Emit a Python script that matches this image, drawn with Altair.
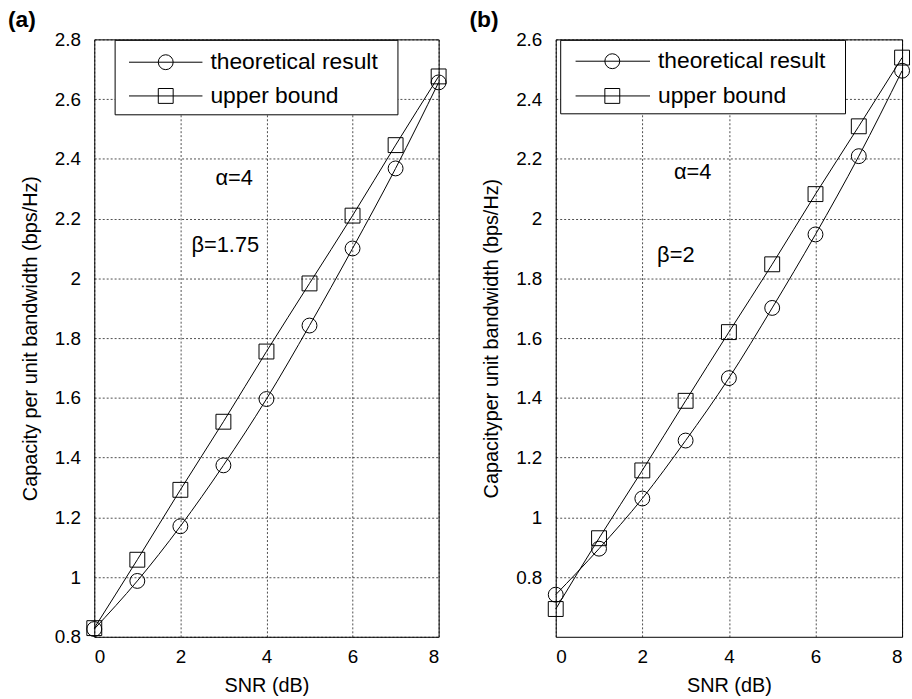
import altair as alt
import pandas as pd

snr = [0, 1, 2, 3, 4, 5, 6, 7, 8]
series_names = ["theoretical result", "upper bound"]
theo_a = [0.826, 0.987, 1.170, 1.374, 1.596, 1.842, 2.100, 2.368, 2.656]
upper_a = [0.829, 1.058, 1.292, 1.520, 1.755, 1.983, 2.210, 2.446, 2.676]
theo_b = [0.741, 0.895, 1.063, 1.257, 1.466, 1.701, 1.947, 2.209, 2.495]
upper_b = [0.693, 0.930, 1.157, 1.390, 1.620, 1.847, 2.082, 2.309, 2.539]
x_ticks = [0, 2, 4, 6, 8]
y_ticks_a = [0.8, 1.0, 1.2, 1.4, 1.6, 1.8, 2.0, 2.2, 2.4, 2.6, 2.8]
y_ticks_b = [0.8, 1.0, 1.2, 1.4, 1.6, 1.8, 2.0, 2.2, 2.4, 2.6]
y_title_a = "Capacity per unit bandwidth (bps/Hz)"
y_title_b = "Capacityper unit bandwidth (bps/Hz)"
x_title = "SNR (dB)"
tags = ["(a)", "(b)"]
alpha_text = "α=4"
beta_texts = ["β=1.75", "β=2"]

FONT = "Liberation Sans"
shapes = ["circle", "square"]


def one(text):
    return pd.DataFrame({"label": [text]})


def panel(theo, upper, ydom, yticks, ytitle, tag, beta_text, width,
          alpha_xy, beta_xy, leg_box, leg_line, leg_mark_x, leg_text_x, leg_rows):
    df = pd.DataFrame({
        "snr": snr + snr,
        "cap": theo + upper,
        "series": [series_names[0]] * len(snr) + [series_names[1]] * len(snr),
    })
    x = alt.X("snr:Q", scale=alt.Scale(domain=[0, 8], nice=False),
              axis=alt.Axis(values=x_ticks, title=x_title, format="~g",
                            labelPadding=11, titlePadding=9))
    y = alt.Y("cap:Q", scale=alt.Scale(domain=ydom, nice=False, zero=False),
              axis=alt.Axis(values=yticks, title=ytitle, format="~g",
                            labelPadding=14, titlePadding=14))
    base = alt.Chart(df)
    lines = base.mark_line(interpolate="monotone", color="black", strokeWidth=1).encode(
        x=x, y=y, detail="series:N")
    pts = base.mark_point(size=225, filled=False, color="black", strokeWidth=1, opacity=1).encode(
        x=x, y=y,
        shape=alt.Shape("series:N", scale=alt.Scale(domain=series_names, range=shapes), legend=None))

    layers = [lines, pts]
    box = alt.Chart(one("box")).mark_rect(fill="white", stroke="black", strokeWidth=1).encode(
        x=alt.value(leg_box[0]), x2=alt.value(leg_box[1]),
        y=alt.value(leg_box[2]), y2=alt.value(leg_box[3]))
    layers.append(box)
    for i, name in enumerate(series_names):
        ry = leg_rows[i]
        layers.append(alt.Chart(one(name)).mark_rule(color="black", strokeWidth=1).encode(
            x=alt.value(leg_line[0]), x2=alt.value(leg_line[1]), y=alt.value(ry)))
        layers.append(alt.Chart(one(name)).mark_point(
            size=225, filled=False, color="black", strokeWidth=1, opacity=1, shape=shapes[i]).encode(
            x=alt.value(leg_mark_x), y=alt.value(ry)))
        layers.append(alt.Chart(one(name)).mark_text(
            align="left", baseline="middle", font=FONT, fontSize=23, color="black").encode(
            x=alt.value(leg_text_x), y=alt.value(ry), text="label:N"))
    layers.append(alt.Chart(one(alpha_text)).mark_text(
        align="center", baseline="middle", font=FONT, fontSize=22, color="black").encode(
        x=alt.value(alpha_xy[0]), y=alt.value(alpha_xy[1]), text="label:N"))
    layers.append(alt.Chart(one(beta_text)).mark_text(
        align="center", baseline="middle", font=FONT, fontSize=22, color="black").encode(
        x=alt.value(beta_xy[0]), y=alt.value(beta_xy[1]), text="label:N"))
    layers.append(alt.Chart(one(tag)).mark_text(
        align="left", baseline="middle", font=FONT, fontSize=23, fontWeight="bold", color="black").encode(
        x=alt.value(-87), y=alt.value(-19), text="label:N"))
    return alt.layer(*layers).properties(width=width, height=602)


pa = panel(theo_a, upper_a, [0.8, 2.8], y_ticks_a, y_title_a, tags[0], beta_texts[0], 347,
           alpha_xy=(141, 140), beta_xy=(132, 207),
           leg_box=(21, 306, 1, 76), leg_line=(35, 109), leg_mark_x=72, leg_text_x=117,
           leg_rows=(23, 57))
pb = panel(theo_b, upper_b, [0.6, 2.6], y_ticks_b, y_title_b, tags[1], beta_texts[1], 349,
           alpha_xy=(138, 134), beta_xy=(121, 217),
           leg_box=(5, 292, 1, 75), leg_line=(20, 95), leg_mark_x=57, leg_text_x=103,
           leg_rows=(22, 57))

chart = alt.hconcat(pa, pb, spacing=20).properties(
    padding={"left": 7, "top": 6, "right": 0, "bottom": 0},
    background="white",
).configure_view(stroke="black", strokeWidth=1).configure_axis(
    domain=False, ticks=False,
    grid=True, gridColor="black", gridDash=[2, 2], gridOpacity=1, gridWidth=0.7,
    labelFont=FONT, labelFontSize=19, labelColor="black",
    titleFont=FONT, titleFontSize=20, titleFontWeight="normal", titleColor="black",
)

chart.save("out.html", embed_options={"renderer": "svg", "actions": False})
